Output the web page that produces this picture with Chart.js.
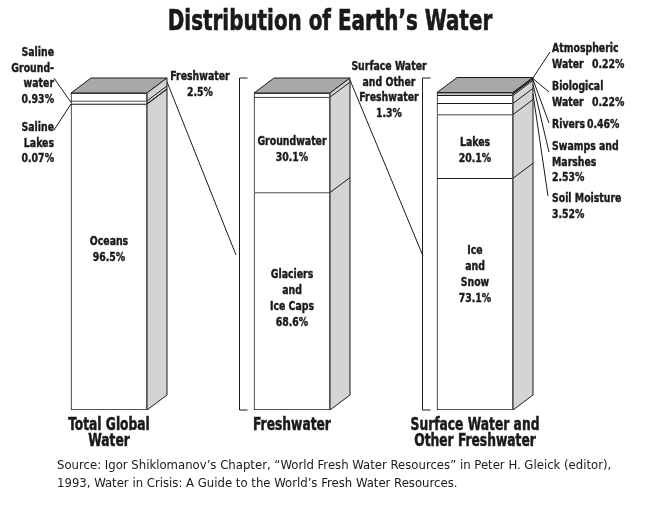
<!DOCTYPE html>
<html>
<head>
<meta charset="utf-8">
<title>Distribution of Earth's Water</title>
<script src="https://cdn.jsdelivr.net/npm/chart.js@4.4.1/dist/chart.umd.min.js"></script>
<style>
  html, body { margin: 0; padding: 0; background: #fff; }
  canvas { display: block; }
</style>
</head>
<body>
<canvas id="waterChart" width="654" height="511"></canvas>
<script>
// Bars (categories) and their segments, bottom to top, in percent
const categories = [['Total Global', 'Water'], ['Freshwater'], ['Surface Water and', 'Other Freshwater']];

const totalWaterNames = ['Oceans', 'Saline Lakes', 'Saline Groundwater', 'Freshwater'];
const totalWaterValues = [96.5, 0.07, 0.93, 2.5];

const freshwaterNames = ['Glaciers and Ice Caps', 'Groundwater', 'Surface Water and Other Freshwater'];
const freshwaterValues = [68.6, 30.1, 1.3];

const surfaceNames = ['Ice and Snow', 'Lakes', 'Soil Moisture', 'Swamps and Marshes', 'Rivers', 'Biological Water', 'Atmospheric Water'];
const surfaceValues = [73.1, 20.1, 3.52, 2.53, 0.46, 0.22, 0.22];

const valueRange = [0, 100];

const titleText = 'Distribution of Earth\u2019s Water';
const sourceLines = [
  'Source: Igor Shiklomanov\u2019s Chapter, \u201cWorld Fresh Water Resources\u201d in Peter H. Gleick (editor),',
  '1993, Water in Crisis: A Guide to the World\u2019s Fresh Water Resources.'
];

const barValues = [totalWaterValues, freshwaterValues, surfaceValues];
const pct = v => v + '%';

// Styling
const FONT = '"Liberation Sans Narrow", "DejaVu Sans Condensed", "Roboto", sans-serif';
const INK = '#1a1a1a';
const DEPTH_X = 20;
const DEPTH_Y = 15;
const SQUEEZE = 0.8; // the original uses a condensed face

// Labels drawn inside the big segments
const insideLabels = [
  { bar: 0, seg: 0, lines: ['Oceans'], dy: -7 },
  { bar: 1, seg: 1, lines: ['Groundwater'], dy: 5 },
  { bar: 1, seg: 0, lines: ['Glaciers', 'and', 'Ice Caps'], dy: -3 },
  { bar: 2, seg: 1, lines: ['Lakes'], dy: 4 },
  { bar: 2, seg: 0, lines: ['Ice', 'and', 'Snow'], dy: -20 }
];

// Labels outside the bars with a leader line
// from: 'front' = left edge of front face, 'side' = right edge of side face
const outsideLabels = [
  { bar: 0, seg: 2, lines: [['Saline'], ['Ground-'], ['water'], [null]], align: 'right', x: 54, y: 53, from: 'front', to: [54, 78] },
  { bar: 0, seg: 1, lines: [['Saline'], ['Lakes'], [null]], align: 'right', x: 54, y: 128, from: 'front', to: [54, 130] },
  { bar: 0, seg: 3, lines: [['Freshwater'], [null]], align: 'center', x: 200, y: 77, from: 'side', to: [236, 255] },
  { bar: 1, seg: 2, lines: [['Surface Water'], ['and Other'], ['Freshwater'], [null]], align: 'center', x: 389, y: 67, from: 'side', to: [423, 256] },
  { bar: 2, seg: 6, lines: [['Atmospheric'], ['Water', null]], align: 'left', x: 552, y: 49, col: 40, from: 'side', to: [550, 52] },
  { bar: 2, seg: 5, lines: [['Biological'], ['Water', null]], align: 'left', x: 552, y: 87, col: 40, from: 'side', to: [549, 92] },
  { bar: 2, seg: 4, lines: [['Rivers', null]], align: 'left', x: 552, y: 125, col: 35, from: 'side', to: [549, 123] },
  { bar: 2, seg: 3, lines: [['Swamps and'], ['Marshes'], [null]], align: 'left', x: 552, y: 147, from: 'side', to: [549, 152] },
  { bar: 2, seg: 2, lines: [['Soil Moisture'], [null]], align: 'left', x: 552, y: 199, from: 'side', to: [548, 196] }
];

// One dataset per stack level
const levels = Math.max(...barValues.map(a => a.length));
const datasets = [];
for (let k = 0; k < levels; k++) {
  datasets.push({
    label: 'level ' + k,
    data: barValues.map(a => (a[k] !== undefined ? a[k] : null)),
    backgroundColor: '#ffffff',
    borderColor: INK,
    borderWidth: k === 0 ? 1 : { top: 1, left: 1, right: 1, bottom: 0 },
    borderSkipped: false,
    barThickness: 76
  });
}

function segBox(chart, bar, seg) {
  const el = chart.getDatasetMeta(seg).data[bar];
  return { left: el.x - el.width / 2, right: el.x + el.width / 2, top: el.y, bottom: el.base, x: el.x };
}

// condensed text: squeeze horizontally around the anchor point,
// with a hairline stroke to get closer to the heavy original face
function text(ctx, t, x, y, sx, heavy) {
  ctx.save();
  ctx.translate(x, y);
  ctx.scale(sx, 1);
  ctx.fillText(t, 0, 0);
  if (heavy) {
    ctx.strokeStyle = INK;
    ctx.lineWidth = heavy;
    ctx.strokeText(t, 0, 0);
  }
  ctx.restore();
}

function drawLines(ctx, lines, x, y, align, lh, sx, heavy) {
  ctx.textAlign = align;
  lines.forEach((t, i) => text(ctx, t, x, y + i * lh, sx, heavy));
}

const waterPlugin = {
  id: 'water3d',
  afterDatasetsDraw(chart) {
    const ctx = chart.ctx;
    const yScale = chart.scales.y;
    const base = yScale.getPixelForValue(0);
    ctx.save();

    // 3D top and side faces
    barValues.forEach((vals, b) => {
      const first = segBox(chart, b, 0);
      const top = segBox(chart, b, vals.length - 1).top;
      const L = first.left, R = first.right;

      ctx.lineWidth = 1;
      ctx.strokeStyle = INK;
      ctx.fillStyle = '#a8a8a8';
      ctx.beginPath();
      ctx.moveTo(L, top);
      ctx.lineTo(L + DEPTH_X, top - DEPTH_Y);
      ctx.lineTo(R + DEPTH_X, top - DEPTH_Y);
      ctx.lineTo(R, top);
      ctx.closePath();
      ctx.fill();
      ctx.stroke();

      ctx.fillStyle = '#d4d4d4';
      ctx.beginPath();
      ctx.moveTo(R, top);
      ctx.lineTo(R + DEPTH_X, top - DEPTH_Y);
      ctx.lineTo(R + DEPTH_X, base - DEPTH_Y);
      ctx.lineTo(R, base);
      ctx.closePath();
      ctx.fill();
      ctx.stroke();

      // segment boundaries on the side face
      for (let s = 1; s < vals.length; s++) {
        const y = segBox(chart, b, s).bottom;
        ctx.beginPath();
        ctx.moveTo(R, y);
        ctx.lineTo(R + DEPTH_X, y - DEPTH_Y);
        ctx.stroke();
      }
      ctx.strokeStyle = '#555';
      ctx.beginPath();
      ctx.moveTo(R - 0.5, top);
      ctx.lineTo(R - 0.5, base);
      ctx.stroke();
    });

    // brackets before bars 2 and 3
    ctx.strokeStyle = INK;
    ctx.lineWidth = 1;
    const bracketTop = yScale.getPixelForValue(valueRange[1]) - DEPTH_Y;
    [1, 2].forEach(b => {
      const L = segBox(chart, b, 0).left;
      const bx = Math.round(L - 15) + 0.5;
      ctx.beginPath();
      ctx.moveTo(bx + 8, bracketTop);
      ctx.lineTo(bx, bracketTop);
      ctx.lineTo(bx, base);
      ctx.lineTo(bx + 8, base);
      ctx.stroke();
    });

    ctx.fillStyle = INK;
    ctx.textBaseline = 'middle';

    // inside labels
    ctx.font = 'bold 13px ' + FONT;
    insideLabels.forEach(l => {
      const box = segBox(chart, l.bar, l.seg);
      const lines = l.lines.concat([pct(barValues[l.bar][l.seg])]);
      const lh = 16;
      const cy = (box.top + box.bottom) / 2 + l.dy - (lines.length - 1) * lh / 2;
      drawLines(ctx, lines, box.x, cy, 'center', lh, SQUEEZE, 0.4);
    });

    // outside labels with leader lines
    outsideLabels.forEach(l => {
      const box = segBox(chart, l.bar, l.seg);
      const mid = (box.top + box.bottom) / 2;
      const start = l.from === 'front' ? [box.left, mid] : [box.right + DEPTH_X, mid - DEPTH_Y];
      ctx.strokeStyle = INK;
      ctx.lineWidth = 1;
      ctx.beginPath();
      ctx.moveTo(start[0], start[1]);
      ctx.lineTo(l.to[0], l.to[1]);
      ctx.stroke();

      const value = pct(barValues[l.bar][l.seg]);
      ctx.textAlign = l.align;
      l.lines.forEach((parts, i) => {
        const y = l.y + i * 15.5;
        parts.forEach((p, j) => {
          const t = p === null ? value : p;
          text(ctx, t, l.x + (j > 0 ? l.col : 0), y, SQUEEZE, 0.4);
        });
      });
    });

    // category labels under the bars
    const xScale = chart.scales.x;
    ctx.font = 'bold 17.5px ' + FONT;
    categories.forEach((lines, i) => {
      drawLines(ctx, lines, xScale.getPixelForValue(i), chart.chartArea.bottom + 15, 'center', 16, 0.78, 0.5);
    });

    // title
    ctx.font = 'bold 28px ' + FONT;
    ctx.textAlign = 'center';
    text(ctx, titleText, 330, 23, 0.79, 0.6);

    // source note
    ctx.font = '13px ' + FONT;
    drawLines(ctx, sourceLines, 57, 466, 'left', 18, 1, 0);

    ctx.restore();
  }
};

new Chart(document.getElementById('waterChart'), {
  type: 'bar',
  data: { labels: categories, datasets: datasets },
  options: {
    responsive: false,
    animation: false,
    layout: { padding: { left: 17.5, right: 87.5, top: 93, bottom: 101 } },
    plugins: { legend: { display: false }, tooltip: { enabled: false } },
    scales: {
      x: { display: false, stacked: true },
      y: { display: false, stacked: true, min: valueRange[0], max: valueRange[1] }
    }
  },
  plugins: [waterPlugin]
});
</script>
</body>
</html>
